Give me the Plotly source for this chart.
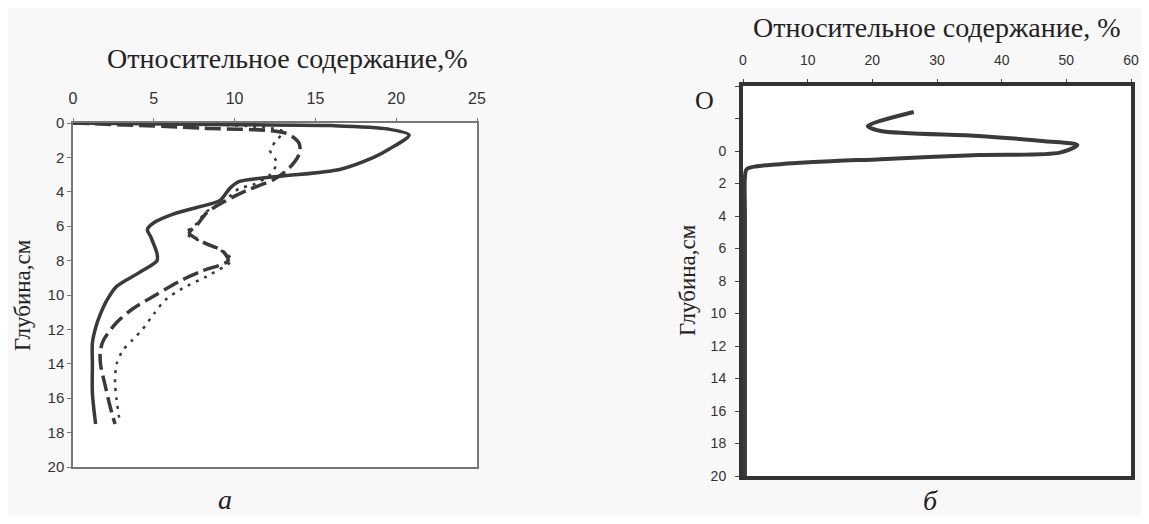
import plotly.graph_objects as go

# ---------- data: panel a ----------
depth_solid = [0, 0.1, 0.15, 0.35, 0.7, 1.5, 2.0, 2.7, 3.1, 3.4, 3.8, 4.5, 4.9, 5.3, 5.8, 6.2, 6.6,
               7.6, 8.0, 8.7, 9.5, 10.3, 11.1, 11.9, 12.8, 14.0, 15.7, 17.5]
val_solid = [0, 10, 16, 19.5, 20.8, 19.6, 18.6, 16.5, 12.8, 10.3, 9.7, 9.1, 7.7, 6.2, 5.0, 4.6, 4.8,
             5.2, 5.2, 4.1, 2.7, 2.1, 1.7, 1.4, 1.2, 1.2, 1.2, 1.4]

depth_dash = [0, 0.3, 0.6, 1.2, 1.8, 2.6, 3.3, 3.9, 4.5, 5.2, 5.9, 6.4, 7.0, 7.4, 8.0, 8.6, 9.1,
              9.95, 10.8, 11.6, 12.6, 13.2, 14.0, 15.3, 16.5, 17.5]
val_dash = [0, 8, 13.2, 14.0, 14.0, 13.4, 12.4, 10.8, 9.5, 8.3, 7.7, 7.2, 8.2, 9.2, 9.6, 8.0, 6.8,
            5.2, 3.7, 2.7, 1.9, 1.7, 1.7, 2.0, 2.3, 2.6]

depth_dot = [0, 0.5, 1.0, 1.6, 2.3, 3.0, 3.6, 3.8, 4.5, 5.2, 5.9, 6.4, 7.0, 7.6, 8.0, 8.9, 9.6,
             10.3, 11.1, 12.0, 12.6, 13.2, 14.0, 15.1, 16.1, 17.4]
val_dot = [0, 13.0, 12.6, 12.2, 12.6, 12.2, 11.1, 10.3, 9.4, 8.2, 7.6, 7.0, 8.2, 9.5, 9.8, 8.3, 6.8,
           5.7, 5.0, 4.3, 3.7, 3.1, 2.7, 2.6, 2.7, 2.9]

x_ticks_a = [0, 5, 10, 15, 20, 25]
y_ticks_a = [0, 2, 4, 6, 8, 10, 12, 14, 16, 18, 20]

# ---------- data: panel б ----------
depth_b = [-2.4, -1.53, -1.23, -0.92, -0.6, -0.37, 0.1, 0.25, 0.5, 0.8, 1.1, 1.6, 4, 8, 12, 16, 20]
val_b = [26.4, 19.3, 21.3, 36.5, 46.7, 51.7, 49.0, 36.5, 21.3, 6.1, 0.6, 0.3, 0.3, 0.3, 0.3, 0.3, 0.3]

x_ticks_b = [0, 10, 20, 30, 40, 50, 60]
y_ticks_b = [-4, -2, 0, 2, 4, 6, 8, 10, 12, 14, 16, 18, 20]
y_text_b = ["", "", "0", "2", "4", "6", "8", "10", "12", "14", "16", "18", "20"]

LINE = "#3a3a3a"
SERIF = "Liberation Serif, Times New Roman, serif"
SANS = "Liberation Sans, Arial, sans-serif"

# the page body has an 8px margin: the figure is drawn 8px right/down in the window;
# keep the page from overflowing so no scrollbar appears
OFF = 8
W, H = 1149 - 2 * OFF, 524 - 2 * OFF

fig = go.Figure()
fig.add_trace(go.Scatter(x=val_solid, y=depth_solid, mode="lines", xaxis="x", yaxis="y",
                         line=dict(color=LINE, width=3.5, shape="spline", smoothing=0.8)))
fig.add_trace(go.Scatter(x=val_dash, y=depth_dash, mode="lines", xaxis="x", yaxis="y",
                         line=dict(color=LINE, width=3.5, dash="16px,6px", shape="spline", smoothing=0.8)))
fig.add_trace(go.Scatter(x=val_dot, y=depth_dot, mode="lines", xaxis="x", yaxis="y",
                         line=dict(color=LINE, width=2.5, dash="3px,6px", shape="spline", smoothing=0.8)))
fig.add_trace(go.Scatter(x=val_b, y=depth_b, mode="lines", xaxis="x2", yaxis="y2",
                         line=dict(color=LINE, width=4, shape="spline", smoothing=0.8)))

def px_x(p):
    return (p - OFF) / W

def px_y(p):
    return 1 - (p - OFF) / H

common = dict(showgrid=False, zeroline=False, automargin=False, showline=True, mirror=True)
fig.update_layout(
    width=W, height=H,
    margin=dict(l=0, r=0, t=0, b=0, pad=0, autoexpand=False),
    paper_bgcolor="#f8f8f8", plot_bgcolor="#ffffff",
    showlegend=False,
    xaxis=dict(domain=[px_x(73), px_x(477)], anchor="y", side="top", range=[0, 25],
               tickvals=x_ticks_a, ticks="outside", ticklen=3, tickcolor="#777",
               ticklabelstandoff=8,
               linecolor="#777", linewidth=1.5,
               tickfont=dict(family=SANS, size=16, color="#333"), **common),
    yaxis=dict(domain=[px_y(467), px_y(123)], anchor="x", range=[20, 0],
               tickvals=y_ticks_a, ticks="outside", ticklen=4, tickcolor="#777",
               linecolor="#777", linewidth=1.5,
               tickfont=dict(family=SANS, size=15, color="#333"), **common),
    xaxis2=dict(domain=[px_x(743), px_x(1131)], anchor="y2", side="top", range=[0, 60],
                tickvals=x_ticks_b, ticks="outside", ticklen=3, tickcolor="#444",
                ticklabelstandoff=8,
                linecolor="#333", linewidth=4,
                tickfont=dict(family=SANS, size=14, color="#333"), **common),
    yaxis2=dict(domain=[px_y(476), px_y(86)], anchor="x2", range=[20, -4],
                tickvals=y_ticks_b, ticktext=y_text_b, ticks="outside", ticklen=4, tickcolor="#444",
                ticklabelstandoff=6,
                linecolor="#333", linewidth=4,
                tickfont=dict(family=SANS, size=14, color="#333"), **common),
)

ann = [
    dict(text="Относительное содержание,%", x=287, y=58, size=28, angle=0, italic=False),
    dict(text="Глубина,см", x=22, y=295, size=23, angle=-90, italic=False),
    dict(text="а", x=225, y=499, size=28, angle=0, italic=True),
    dict(text="Относительное содержание, %", x=937, y=27, size=28, angle=0, italic=False),
    dict(text="Глубина,см", x=687, y=280, size=23, angle=-90, italic=False),
    dict(text="б", x=930, y=500, size=28, angle=0, italic=True),
    dict(text="O", x=704, y=100, size=26, angle=0, italic=False),
]
for a in ann:
    txt = f"<i>{a['text']}</i>" if a["italic"] else a["text"]
    fig.add_annotation(text=txt, x=px_x(a["x"]), y=px_y(a["y"]), xref="paper", yref="paper",
                       showarrow=False, textangle=a["angle"], xanchor="center", yanchor="middle",
                       font=dict(family=SERIF, size=a["size"], color="#222"))

fig.write_html("out.html")
